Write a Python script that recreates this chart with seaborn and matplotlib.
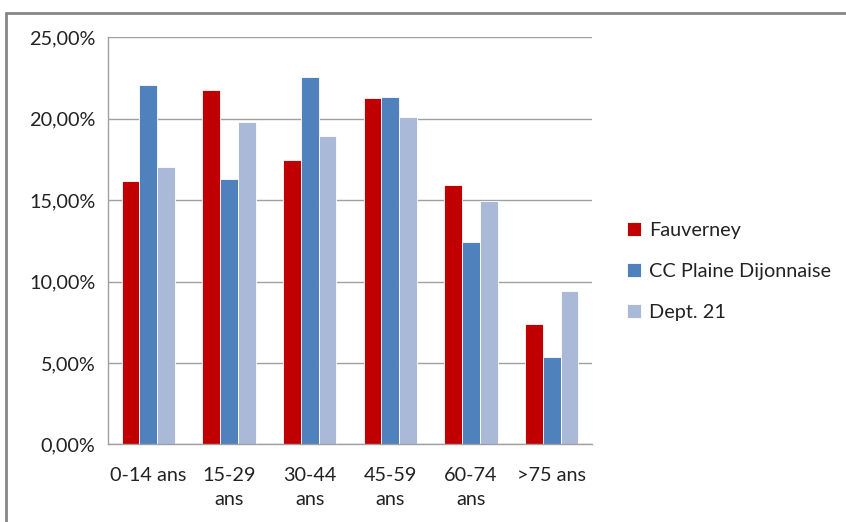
import pandas as pd
import numpy as np
import matplotlib.pyplot as plt
import matplotlib as mpl
from matplotlib.lines import Line2D
import seaborn as sns

# data (% of population)
categories = ['0-14 ans', '15-29\nans', '30-44\nans', '45-59\nans', '60-74\nans', '>75 ans']
fauverney = [16.17, 21.73, 17.48, 21.27, 15.92, 7.38]
cc_plaine = [22.06, 16.29, 22.57, 21.33, 12.44, 5.36]
dept_21 = [17.03, 19.77, 18.93, 20.10, 14.92, 9.43]
series = ['Fauverney', 'CC Plaine Dijonnaise', 'Dept. 21']
yticks = [0, 5, 10, 15, 20, 25]
ytick_labels = ['0,00%', '5,00%', '10,00%', '15,00%', '20,00%', '25,00%']

df = pd.DataFrame({
    'Age': categories * 3,
    'Part': fauverney + cc_plaine + dept_21,
    'Zone': [s for s in series for _ in categories],
})

sns.set_style('white')
plt.rcParams['font.family'] = ['Lato', 'DejaVu Sans']
mpl.rcParams['axes.linewidth'] = 1.0

palette = ['#C00000', '#4F81BD', '#AAB9D8']
grey = '#a0a0a0'
fs = 14.3

fig = plt.figure(figsize=(8.46, 5.22), dpi=100)
ax = fig.add_axes([0.1277, 0.1485, 0.5721, 0.7805])

sns.barplot(data=df, x='Age', y='Part', hue='Zone', palette=palette,
            width=0.66, saturation=1, linewidth=0.6, edgecolor='white', ax=ax)

ax.set_ylim(0, 25)
ax.set_xlim(-0.5, len(categories) - 0.5)
ax.set_yticks(yticks)
ax.set_yticklabels(ytick_labels, fontsize=fs, color='#222222')
ax.yaxis.grid(True, color=grey, linewidth=1.0)
ax.set_axisbelow(True)
ax.set_xlabel('')
ax.set_ylabel('')

ax.set_xticks(range(len(categories)))
ax.set_xticklabels(categories, fontsize=fs, color='#222222', linespacing=1.5)
ax.set_xticks(np.arange(-0.5, len(categories), 1.0), minor=True)
ax.tick_params(axis='x', which='major', length=0, pad=16)
ax.tick_params(axis='x', which='minor', length=5, color=grey, width=1.0, direction='out')
ax.tick_params(axis='y', length=5, color=grey, width=1.0, direction='out', pad=4)

for side in ['top', 'right']:
    ax.spines[side].set_visible(False)
for side in ['left', 'bottom']:
    ax.spines[side].set_color(grey)

leg = ax.legend(loc='center left', bbox_to_anchor=(1.035, 0.425), frameon=False,
                fontsize=fs, handlelength=0.7, handleheight=0.7,
                handletextpad=0.4, labelspacing=1.2)
for t in leg.get_texts():
    t.set_color('#222222')

# outer chart frame (top and left edges visible)
fig.add_artist(Line2D([6 / 846, 1.0], [1 - 13 / 522, 1 - 13 / 522],
                      transform=fig.transFigure, color='#868686', linewidth=2))
fig.add_artist(Line2D([6 / 846, 6 / 846], [0.0, 1 - 13 / 522],
                      transform=fig.transFigure, color='#868686', linewidth=2))

fig.savefig('out.png', dpi=100)
